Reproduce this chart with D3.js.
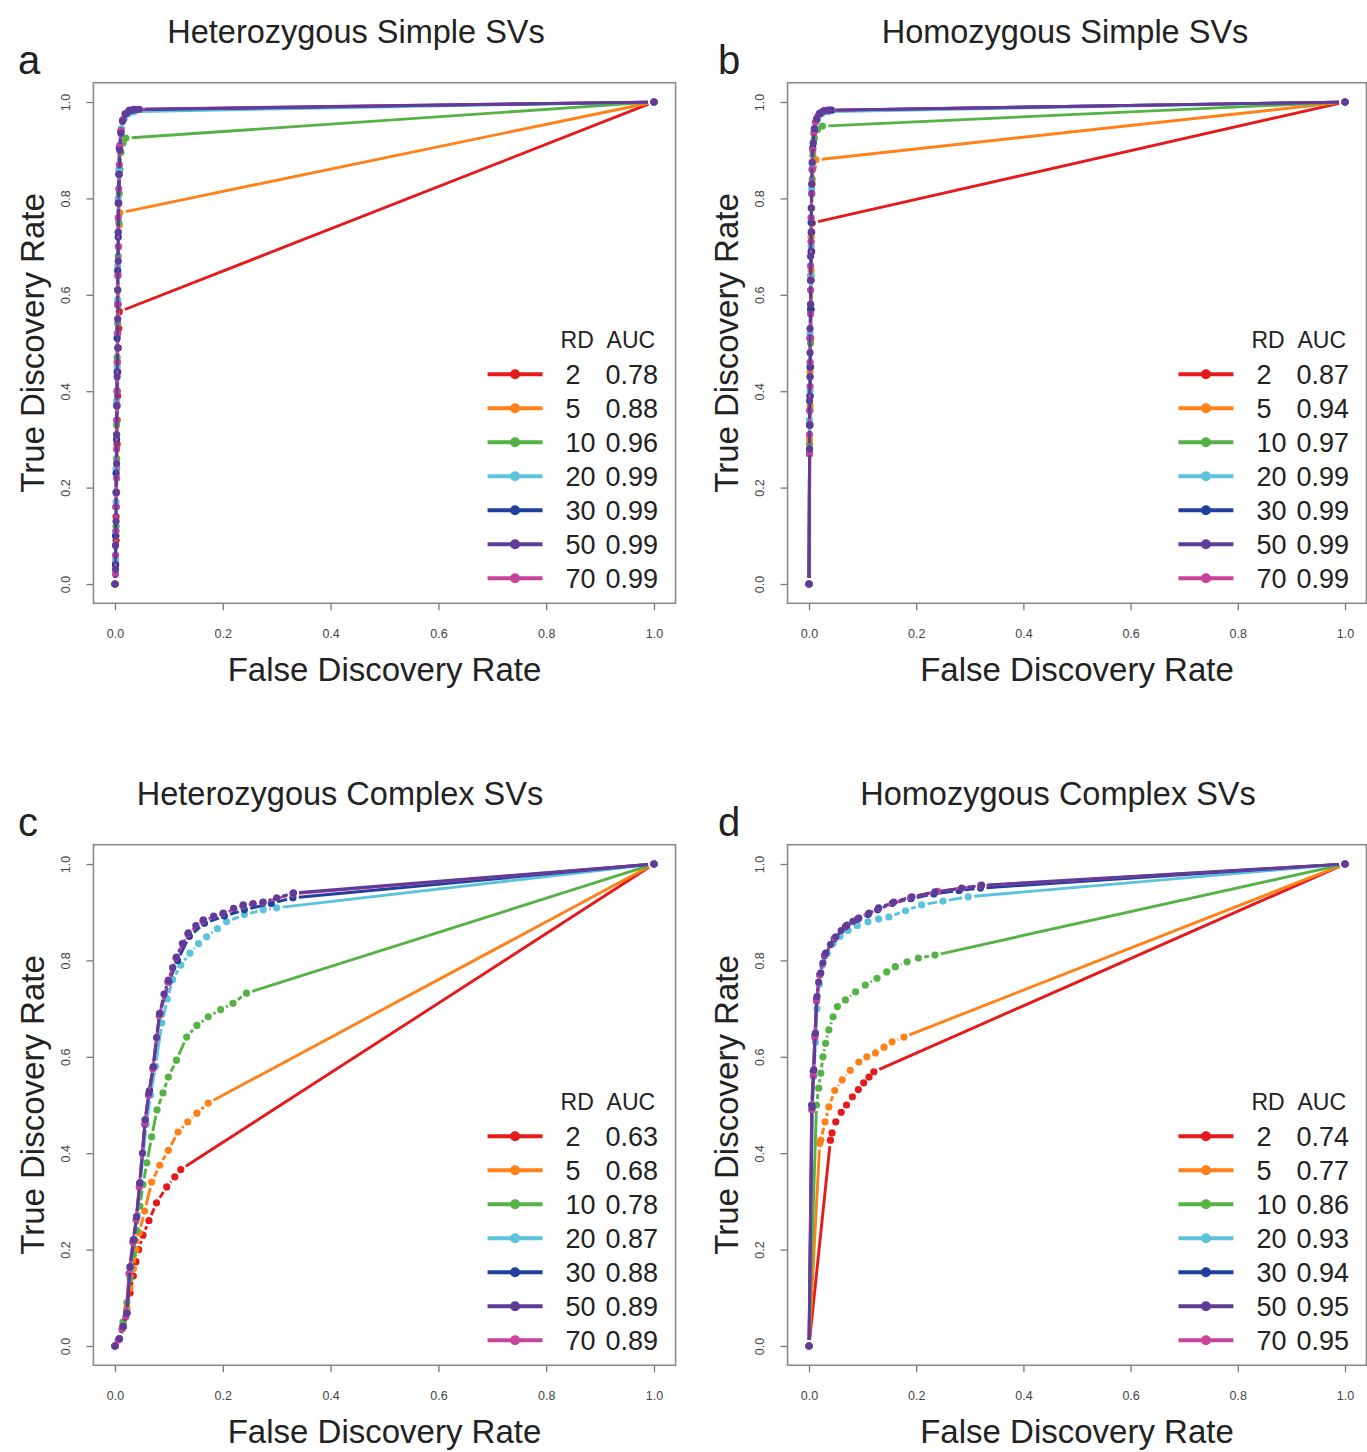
<!DOCTYPE html>
<html>
<head>
<meta charset="utf-8">
<script src="https://cdn.jsdelivr.net/npm/d3@7"></script>
<style>
  body { margin: 0; background: #fff; }
  text { font-family: "Liberation Sans", Arial, Helvetica, sans-serif; fill: #222; }
</style>
</head>
<body>
<svg id="chart" width="1367" height="1452"></svg>
<script>
// read depths and their colours
var rdLevels = [2, 5, 10, 20, 30, 50, 70];
var rdColors = ["#e41a1c", "#ff8118", "#55b346", "#5cc3dd", "#213f9e", "#5e3c98", "#c8449c"];
var drawOrder = [0, 1, 2, 3, 4, 6, 5]; // purple ends up on top like the original
var tickValues = [0, 0.2, 0.4, 0.6, 0.8, 1.0];

var panelTitles = ["Heterozygous Simple SVs", "Homozygous Simple SVs", "Heterozygous Complex SVs", "Homozygous Complex SVs"];
var panelLetters = ["a", "b", "c", "d"];

var aucHetSimple = ["0.78", "0.88", "0.96", "0.99", "0.99", "0.99", "0.99"];
var aucHomSimple = ["0.87", "0.94", "0.97", "0.99", "0.99", "0.99", "0.99"];
var aucHetComplex = ["0.63", "0.68", "0.78", "0.87", "0.88", "0.89", "0.89"];
var aucHomComplex = ["0.74", "0.77", "0.86", "0.93", "0.94", "0.95", "0.95"];

// [FDR, TDR] points, one list per read depth (2,5,10,20,30,50,70)
var hetSimple = [
  [[0,0],[0.001,0.04],[0.002,0.09],[0.002,0.14],[0.003,0.19],[0.003,0.24],[0.004,0.29],[0.004,0.34],[0.005,0.39],[0.005,0.44],[0.006,0.49],[0.007,0.53],[0.008,0.565],[1,1]],
  [[0,0],[0.001,0.04],[0.002,0.10],[0.002,0.16],[0.003,0.22],[0.003,0.28],[0.004,0.34],[0.004,0.40],[0.005,0.46],[0.005,0.52],[0.006,0.58],[0.006,0.64],[0.007,0.70],[0.008,0.745],[0.009,0.77],[1,1]],
  [[0,0],[0.001,0.05],[0.002,0.12],[0.002,0.19],[0.003,0.26],[0.003,0.33],[0.004,0.40],[0.004,0.47],[0.005,0.54],[0.005,0.61],[0.006,0.68],[0.007,0.75],[0.008,0.81],[0.009,0.86],[0.011,0.895],[0.015,0.915],[0.02,0.925],[1,1]],
  [[0,0],[0.001,0.05],[0.001,0.11],[0.002,0.17],[0.002,0.24],[0.003,0.31],[0.003,0.38],[0.004,0.45],[0.004,0.52],[0.005,0.59],[0.005,0.66],[0.006,0.73],[0.006,0.80],[0.007,0.86],[0.009,0.91],[0.012,0.945],[0.017,0.966],[0.025,0.976],[0.035,0.98],[1,1]],
  [[0,0],[0.001,0.04],[0.001,0.10],[0.002,0.16],[0.002,0.23],[0.003,0.30],[0.003,0.37],[0.004,0.44],[0.004,0.51],[0.005,0.58],[0.005,0.65],[0.006,0.72],[0.006,0.79],[0.007,0.85],[0.008,0.905],[0.011,0.94],[0.015,0.963],[0.022,0.977],[0.032,0.983],[0.04,0.984],[1,1]],
  [[0,0],[0.001,0.03],[0.001,0.08],[0.002,0.13],[0.002,0.19],[0.003,0.25],[0.003,0.31],[0.004,0.37],[0.004,0.43],[0.005,0.49],[0.005,0.55],[0.005,0.61],[0.006,0.67],[0.006,0.73],[0.007,0.79],[0.008,0.85],[0.009,0.90],[0.011,0.935],[0.014,0.96],[0.019,0.975],[0.026,0.982],[0.035,0.985],[0.045,0.985],[1,1]],
  [[0,0],[0.001,0.02],[0.001,0.06],[0.002,0.11],[0.002,0.16],[0.003,0.22],[0.003,0.28],[0.003,0.34],[0.004,0.40],[0.004,0.46],[0.005,0.52],[0.005,0.58],[0.005,0.64],[0.006,0.70],[0.006,0.76],[0.007,0.82],[0.008,0.87],[0.009,0.91],[0.011,0.94],[0.014,0.962],[0.019,0.976],[0.027,0.983],[0.037,0.985],[1,1]]
];

var homSimple = [
  [[0,0],[0.002,0.33],[0.002,0.39],[0.003,0.45],[0.003,0.51],[0.004,0.57],[0.004,0.63],[0.005,0.69],[0.005,0.73],[0.006,0.749],[1,1]],
  [[0,0],[0.001,0.30],[0.002,0.37],[0.002,0.44],[0.003,0.51],[0.003,0.58],[0.004,0.65],[0.004,0.72],[0.005,0.78],[0.006,0.83],[0.008,0.865],[0.013,0.88],[1,1]],
  [[0,0],[0.001,0.29],[0.002,0.36],[0.002,0.43],[0.003,0.50],[0.003,0.57],[0.004,0.64],[0.004,0.71],[0.005,0.78],[0.006,0.84],[0.007,0.89],[0.010,0.925],[0.016,0.943],[0.025,0.95],[1,1]],
  [[0,0],[0.001,0.28],[0.001,0.34],[0.002,0.40],[0.002,0.46],[0.002,0.52],[0.003,0.58],[0.003,0.64],[0.004,0.70],[0.004,0.76],[0.005,0.82],[0.006,0.87],[0.008,0.915],[0.011,0.945],[0.016,0.965],[0.024,0.976],[0.035,0.98],[1,1]],
  [[0,0],[0.001,0.27],[0.001,0.33],[0.002,0.39],[0.002,0.45],[0.002,0.51],[0.003,0.57],[0.003,0.63],[0.004,0.69],[0.004,0.75],[0.005,0.81],[0.006,0.86],[0.007,0.905],[0.010,0.94],[0.014,0.962],[0.021,0.976],[0.032,0.982],[0.042,0.983],[1,1]],
  [[0,0],[0.001,0.28],[0.001,0.33],[0.001,0.38],[0.002,0.43],[0.002,0.48],[0.002,0.53],[0.003,0.58],[0.003,0.63],[0.003,0.68],[0.004,0.73],[0.004,0.78],[0.005,0.83],[0.006,0.875],[0.008,0.915],[0.010,0.945],[0.014,0.965],[0.020,0.977],[0.028,0.982],[0.038,0.983],[1,1]],
  [[0,0],[0.001,0.27],[0.001,0.31],[0.001,0.36],[0.002,0.41],[0.002,0.46],[0.002,0.51],[0.003,0.56],[0.003,0.61],[0.003,0.66],[0.004,0.71],[0.004,0.76],[0.005,0.81],[0.006,0.86],[0.007,0.90],[0.009,0.935],[0.012,0.958],[0.017,0.972],[0.025,0.98],[0.035,0.983],[1,1]]
];

var hetComplex = [
  [[0,0],[0.008,0.015],[0.015,0.04],[0.022,0.075],[0.028,0.11],[0.034,0.145],[0.039,0.175],[0.044,0.20],[0.052,0.23],[0.063,0.26],[0.077,0.297],[0.096,0.33],[0.111,0.351],[0.122,0.366],[1,1]],
  [[0,0],[0.008,0.015],[0.015,0.045],[0.022,0.08],[0.028,0.12],[0.034,0.16],[0.039,0.20],[0.045,0.235],[0.055,0.28],[0.068,0.34],[0.083,0.375],[0.099,0.406],[0.117,0.444],[0.135,0.465],[0.152,0.483],[0.173,0.504],[1,1]],
  [[0,0],[0.008,0.015],[0.015,0.05],[0.022,0.09],[0.028,0.14],[0.034,0.19],[0.040,0.24],[0.046,0.29],[0.052,0.335],[0.059,0.38],[0.068,0.434],[0.078,0.49],[0.089,0.525],[0.099,0.558],[0.114,0.593],[0.133,0.641],[0.152,0.665],[0.173,0.683],[0.196,0.698],[0.219,0.711],[0.244,0.732],[1,1]],
  [[0,0],[0.008,0.015],[0.015,0.04],[0.022,0.07],[0.028,0.16],[0.034,0.22],[0.041,0.27],[0.047,0.34],[0.058,0.46],[0.066,0.52],[0.075,0.58],[0.087,0.67],[0.097,0.72],[0.107,0.76],[0.122,0.79],[0.139,0.815],[0.155,0.835],[0.17,0.849],[0.19,0.866],[0.207,0.88],[0.24,0.895],[0.275,0.905],[0.30,0.909],[1,1]],
  [[0,0],[0.008,0.015],[0.015,0.04],[0.022,0.068],[0.028,0.164],[0.035,0.22],[0.040,0.268],[0.046,0.338],[0.056,0.469],[0.064,0.53],[0.071,0.579],[0.083,0.69],[0.100,0.755],[0.116,0.80],[0.138,0.85],[0.166,0.877],[0.203,0.892],[0.24,0.905],[0.29,0.918],[0.33,0.93],[1,1]],
  [[0,0],[0.008,0.015],[0.015,0.04],[0.022,0.068],[0.028,0.164],[0.034,0.22],[0.040,0.268],[0.046,0.338],[0.051,0.40],[0.056,0.469],[0.063,0.525],[0.071,0.579],[0.077,0.64],[0.083,0.69],[0.091,0.73],[0.099,0.759],[0.107,0.785],[0.114,0.807],[0.125,0.835],[0.136,0.857],[0.150,0.872],[0.164,0.884],[0.183,0.892],[0.201,0.898],[0.22,0.908],[0.238,0.915],[0.256,0.918],[0.275,0.921],[0.30,0.93],[0.331,0.94],[1,1]],
  [[0,0],[0.006,0.012],[0.013,0.035],[0.02,0.06],[0.026,0.15],[0.033,0.215],[0.039,0.262],[0.045,0.33],[0.055,0.46],[0.062,0.52],[0.070,0.575],[0.082,0.685],[0.098,0.755],[0.113,0.805],[0.135,0.855],[0.163,0.882],[0.20,0.897],[0.237,0.913],[0.274,0.92],[0.33,0.938],[1,1]]
];

var homComplex = [
  [[0,0],[0.040,0.427],[0.043,0.442],[0.050,0.465],[0.060,0.485],[0.070,0.50],[0.081,0.517],[0.092,0.532],[0.102,0.546],[0.112,0.558],[0.121,0.569],[1,1]],
  [[0,0],[0.020,0.42],[0.022,0.427],[0.030,0.465],[0.037,0.496],[0.048,0.53],[0.062,0.552],[0.077,0.572],[0.093,0.589],[0.108,0.60],[0.124,0.608],[0.140,0.62],[0.155,0.631],[0.177,0.641],[1,1]],
  [[0,0],[0.014,0.50],[0.018,0.535],[0.022,0.566],[0.026,0.60],[0.031,0.628],[0.037,0.656],[0.045,0.683],[0.053,0.704],[0.068,0.718],[0.087,0.735],[0.105,0.749],[0.127,0.763],[0.145,0.776],[0.161,0.787],[0.183,0.797],[0.204,0.805],[0.235,0.811],[1,1]],
  [[0,0],[0.006,0.49],[0.009,0.56],[0.012,0.63],[0.015,0.70],[0.019,0.75],[0.025,0.79],[0.034,0.815],[0.045,0.835],[0.058,0.85],[0.073,0.862],[0.09,0.872],[0.11,0.88],[0.13,0.886],[0.149,0.89],[0.18,0.903],[0.21,0.915],[0.25,0.923],[0.297,0.932],[1,1]],
  [[0,0],[0.005,0.50],[0.008,0.57],[0.011,0.645],[0.014,0.72],[0.02,0.77],[0.029,0.81],[0.047,0.845],[0.068,0.87],[0.09,0.885],[0.11,0.895],[0.128,0.905],[0.155,0.918],[0.19,0.928],[0.233,0.938],[0.28,0.945],[0.32,0.95],[1,1]],
  [[0,0],[0.006,0.496],[0.009,0.573],[0.012,0.649],[0.015,0.725],[0.018,0.755],[0.022,0.774],[0.026,0.795],[0.031,0.815],[0.040,0.833],[0.050,0.849],[0.060,0.862],[0.071,0.873],[0.082,0.881],[0.093,0.888],[0.112,0.898],[0.130,0.909],[0.158,0.921],[0.192,0.932],[0.235,0.942],[0.285,0.95],[0.322,0.956],[1,1]],
  [[0,0],[0.005,0.49],[0.008,0.56],[0.011,0.64],[0.014,0.715],[0.02,0.77],[0.03,0.812],[0.048,0.847],[0.07,0.872],[0.092,0.887],[0.13,0.908],[0.19,0.931],[0.24,0.943],[0.32,0.955],[1,1]]
];

var panelCurves = [hetSimple, homSimple, hetComplex, homComplex];
var panelAucs = [aucHetSimple, aucHomSimple, aucHetComplex, aucHomComplex];

// pixel frame of each panel: where 0 and 1 land
var layout = [
  { x0: 115, x1: 654, y0: 584, y1: 102, titleX: 356, letterX: 18 },
  { x0: 809, x1: 1345, y0: 584, y1: 102, titleX: 1065, letterX: 718 },
  { x0: 115, x1: 654, y0: 1346, y1: 864, titleX: 340, letterX: 18 },
  { x0: 809, x1: 1345, y0: 1346, y1: 864, titleX: 1058, letterX: 718 }
];

var svg = d3.select("#chart");
svg.append("rect").attr("width", 1367).attr("height", 1452).attr("fill", "#fff");

var gap = 6; // like R type="b": lines stop short of the points

panelCurves.forEach(function (curves, pi) {
    var L = layout[pi];
    var x = d3.scaleLinear().domain([0, 1]).range([L.x0, L.x1]);
    var y = d3.scaleLinear().domain([0, 1]).range([L.y0, L.y1]);
    var g = svg.append("g");

    var bl = x(-0.04), br = x(1.04), bt = y(1.04), bb = y(-0.04);

    // axes
    var xAxis = g.append("g")
        .attr("transform", "translate(0," + bb + ")")
        .call(d3.axisBottom(x).tickValues(tickValues).tickFormat(d3.format(".1f")).tickSize(7).tickPadding(19));
    var yAxis = g.append("g")
        .attr("transform", "translate(" + bl + ",0)")
        .call(d3.axisLeft(y).tickValues(tickValues).tickFormat(d3.format(".1f")).tickSize(7));
    [xAxis, yAxis].forEach(function (ax) {
        ax.select(".domain").remove();
        ax.selectAll("line").attr("stroke", "#777").attr("stroke-width", 1.3);
        ax.selectAll("text").attr("font-size", 12.5).style("fill", "#444")
          .attr("font-family", "Liberation Sans, Arial, sans-serif");
    });
    yAxis.selectAll("text")
        .attr("transform", "rotate(-90)")
        .attr("x", 0).attr("y", -28).attr("dy", "0.35em")
        .attr("text-anchor", "middle");

    // box
    g.append("rect")
        .attr("x", bl).attr("y", bt)
        .attr("width", br - bl).attr("height", bb - bt)
        .attr("fill", "none").attr("stroke", "#8a8a8a").attr("stroke-width", 1.6);

    // curves
    drawOrder.forEach(function (si) {
        var pts = curves[si];
        var col = rdColors[si];
        var segs = [];
        for (var k = 1; k < pts.length; k++) {
            var ax0 = x(pts[k - 1][0]), ay0 = y(pts[k - 1][1]);
            var ax1 = x(pts[k][0]), ay1 = y(pts[k][1]);
            var dx = ax1 - ax0, dy = ay1 - ay0, d = Math.sqrt(dx * dx + dy * dy);
            if (d > 2 * gap) {
                var ux = dx / d, uy = dy / d;
                segs.push([ax0 + ux * gap, ay0 + uy * gap, ax1 - ux * gap, ay1 - uy * gap]);
            }
        }
        g.append("g").selectAll("line")
            .data(segs)
            .enter().append("line")
            .attr("x1", function (s) { return s[0]; })
            .attr("y1", function (s) { return s[1]; })
            .attr("x2", function (s) { return s[2]; })
            .attr("y2", function (s) { return s[3]; })
            .attr("stroke", col).attr("stroke-width", 2.9)
            .attr("stroke-linecap", "butt");
        g.append("g").selectAll("circle")
            .data(pts)
            .enter().append("circle")
            .attr("cx", function (p) { return x(p[0]); })
            .attr("cy", function (p) { return y(p[1]); })
            .attr("r", 3.6)
            .attr("fill", col);
    });

    // titles
    g.append("text")
        .attr("x", L.titleX).attr("y", bt - 40)
        .attr("text-anchor", "middle").attr("font-size", 32.5)
        .text(panelTitles[pi]);
    g.append("text")
        .attr("x", L.letterX).attr("y", bt - 9)
        .attr("font-size", 40)
        .text(panelLetters[pi]);
    g.append("text")
        .attr("x", (L.x0 + L.x1) / 2).attr("y", bb + 78)
        .attr("text-anchor", "middle").attr("font-size", 33)
        .text("False Discovery Rate");
    g.append("text")
        .attr("transform", "translate(" + (bl - 61) + "," + ((L.y0 + L.y1) / 2) + ") rotate(-90)")
        .attr("text-anchor", "middle").attr("dy", "0.35em").attr("font-size", 33)
        .text("True Discovery Rate");

    // legend (bottom right)
    var aucs = panelAucs[pi];
    var rowStep = 34;
    var lastRow = bb - 25;
    var lg = g.append("g");
    lg.append("text").attr("x", br - 115).attr("y", lastRow - 6 * rowStep - 34)
        .attr("dy", "0.35em").attr("font-size", 23).text("RD");
    lg.append("text").attr("x", br - 69).attr("y", lastRow - 6 * rowStep - 34)
        .attr("dy", "0.35em").attr("font-size", 23).text("AUC");
    var rows = lg.selectAll("g.row")
        .data(rdLevels)
        .enter().append("g")
        .attr("class", "row")
        .attr("transform", function (d, i) { return "translate(0," + (lastRow - (6 - i) * rowStep) + ")"; });
    rows.append("line")
        .attr("x1", br - 188).attr("x2", br - 133)
        .attr("stroke", function (d, i) { return rdColors[i]; })
        .attr("stroke-width", 4);
    rows.append("circle")
        .attr("cx", br - 160.5).attr("r", 5)
        .attr("fill", function (d, i) { return rdColors[i]; });
    rows.append("text")
        .attr("x", br - 110).attr("dy", "0.36em").attr("font-size", 27)
        .text(function (d) { return d; });
    rows.append("text")
        .attr("x", br - 70).attr("dy", "0.36em").attr("font-size", 27)
        .text(function (d, i) { return aucs[i]; });
});
</script>
</body>
</html>
